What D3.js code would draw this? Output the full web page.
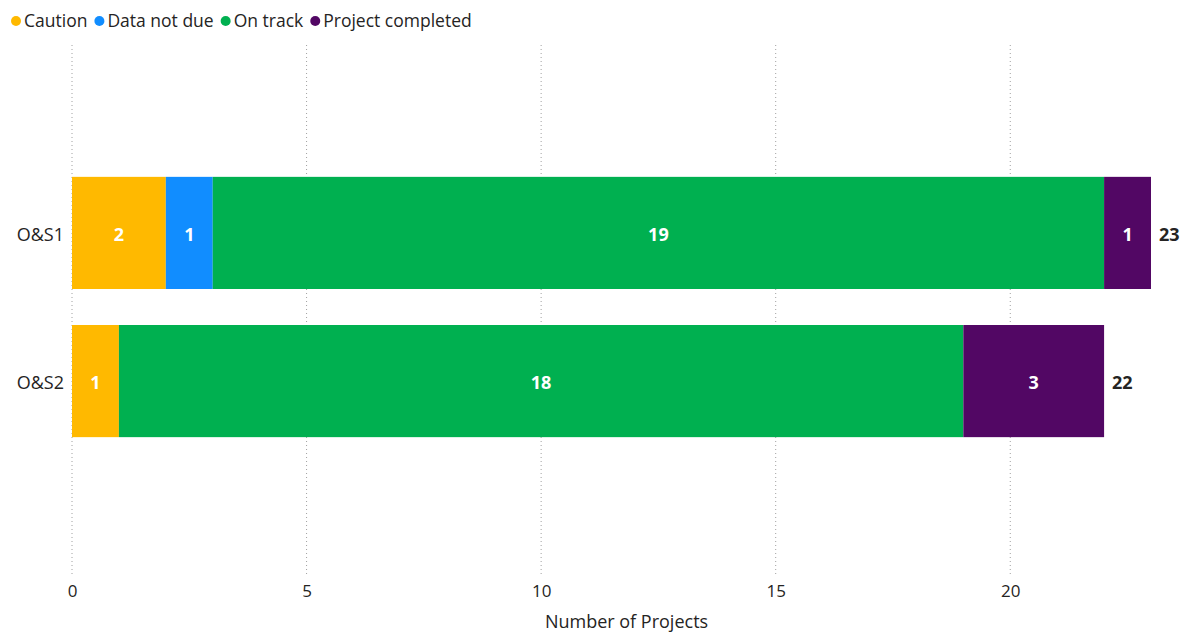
<!DOCTYPE html>
<html>
<head>
<meta charset="utf-8">
<script src="https://cdn.jsdelivr.net/npm/d3@7"></script>
<style>
  body { margin: 0; background: #fff; }
  text { font-family: "Open Sans", "Noto Sans", sans-serif; }
</style>
</head>
<body>
<div id="chart"></div>
<script>
// data
const categories = ["O&S1", "O&S2"];
const statuses = ["Caution", "Data not due", "On track", "Project completed"];
const caution = [2, 1];
const dataNotDue = [1, 0];
const onTrack = [19, 18];
const completed = [1, 3];
const xTicks = [0, 5, 10, 15, 20];
const colors = ["#FFB900", "#118DFF", "#00B050", "#520764"];

const width = 1184, height = 635;
const margin = {top: 45, right: 33, bottom: 66, left: 72};

const rows = categories.map((c, i) => ({
  cat: c,
  "Caution": caution[i],
  "Data not due": dataNotDue[i],
  "On track": onTrack[i],
  "Project completed": completed[i]
}));
const stacked = d3.stack().keys(statuses)(rows);

const svg = d3.select("#chart").append("svg")
  .attr("width", width)
  .attr("height", height);

const x = d3.scaleLinear()
  .domain([0, 23])
  .range([margin.left, width - margin.right]);

const y = d3.scaleBand()
  .domain(categories)
  .range([margin.top, height - margin.bottom])
  .paddingInner(0.243)
  .paddingOuter(0.89);

// grid lines
svg.append("g")
  .selectAll("line")
  .data(xTicks)
  .enter().append("line")
  .attr("x1", d => x(d)).attr("x2", d => x(d))
  .attr("y1", margin.top).attr("y2", height - margin.bottom + 6)
  .attr("stroke", "#a0a0a0")
  .attr("stroke-width", 1)
  .attr("stroke-dasharray", "1,3");

// bars
const layer = svg.append("g").selectAll("g")
  .data(stacked)
  .enter().append("g")
  .attr("fill", (d, i) => colors[i]);

layer.selectAll("rect")
  .data(d => d.filter(p => p[1] - p[0] > 0))
  .enter().append("rect")
  .attr("x", d => x(d[0]))
  .attr("y", d => y(d.data.cat))
  .attr("width", d => x(d[1]) - x(d[0]))
  .attr("height", y.bandwidth());

// segment labels
layer.selectAll("text")
  .data(d => d.filter(p => p[1] - p[0] > 0))
  .enter().append("text")
  .attr("x", d => (x(d[0]) + x(d[1])) / 2)
  .attr("y", d => y(d.data.cat) + y.bandwidth() / 2 + 2)
  .attr("dy", "0.35em")
  .attr("text-anchor", "middle")
  .attr("fill", "#fff")
  .style("font-size", "18px")
  .style("font-weight", "bold")
  .text(d => d[1] - d[0]);

// totals
svg.append("g").selectAll("text")
  .data(rows)
  .enter().append("text")
  .attr("x", d => x(d3.sum(statuses, k => d[k])) + 8)
  .attr("y", d => y(d.cat) + y.bandwidth() / 2 + 2)
  .attr("dy", "0.35em")
  .attr("fill", "#252423")
  .style("font-size", "18px")
  .style("font-weight", "bold")
  .text(d => d3.sum(statuses, k => d[k]));

// category labels
svg.append("g").selectAll("text")
  .data(categories)
  .enter().append("text")
  .attr("x", margin.left - 8)
  .attr("y", d => y(d) + y.bandwidth() / 2 + 2)
  .attr("dy", "0.35em")
  .attr("text-anchor", "end")
  .attr("fill", "#252423")
  .style("font-size", "18px")
  .text(d => d);

// x axis
const xAxis = svg.append("g")
  .attr("transform", `translate(0,${height - margin.bottom})`)
  .call(d3.axisBottom(x).tickValues(xTicks).tickSize(0).tickPadding(16));
xAxis.select(".domain").remove();
xAxis.selectAll("text")
  .attr("fill", "#252423")
  .style("font-size", "17px")
  .style("font-family", "'Open Sans', 'Noto Sans', sans-serif");

svg.append("text")
  .attr("x", (margin.left + width - margin.right) / 2 + 15)
  .attr("y", 628)
  .attr("text-anchor", "middle")
  .attr("fill", "#252423")
  .style("font-size", "18px")
  .text("Number of Projects");

// legend
const legend = svg.append("g").attr("transform", "translate(10,21)");
let lx = 0;
statuses.forEach((s, i) => {
  const g = legend.append("g").attr("transform", `translate(${lx},0)`);
  g.append("circle").attr("cx", 6).attr("cy", 0).attr("r", 5).attr("fill", colors[i]);
  const t = g.append("text")
    .attr("x", 14)
    .attr("dy", "0.35em")
    .attr("fill", "#252423")
    .style("font-size", "17.5px")
    .text(s);
  lx += 14 + t.node().getComputedTextLength() + 6;
});
</script>
</body>
</html>
